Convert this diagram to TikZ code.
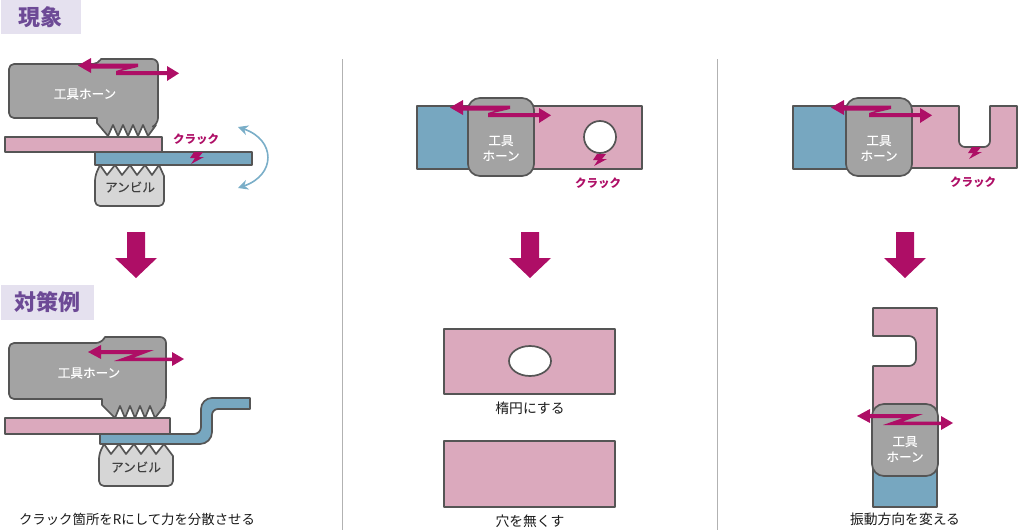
\documentclass[tikz,border=0pt]{standalone}
\usepackage{fontspec}
\setmainfont{Noto Sans CJK JP}
\usetikzlibrary{arrows.meta}
\definecolor{edge}{HTML}{555555}
\definecolor{horngray}{HTML}{A3A3A3}
\definecolor{anvilgray}{HTML}{D6D6D6}
\definecolor{pinkplate}{HTML}{DBA9BD}
\definecolor{blueplate}{HTML}{77A7C0}
\definecolor{magentaA}{HTML}{AE0E66}
\definecolor{headbg}{HTML}{E5E1EF}
\definecolor{headfg}{HTML}{6D4A96}
\definecolor{swing}{HTML}{7AAEC8}
\newfontfamily\semibold[FakeBold=0.25]{Noto Sans CJK JP}
\tikzset{
 x=1pt,y=-1pt,
 part/.style={draw=edge,line width=1.7pt,line join=round},
 pinkpart/.style={part,fill=pinkplate},
 bluepart/.style={part,fill=blueplate},
 hornpart/.style={part,fill=horngray},
 anvilpart/.style={part,fill=anvilgray},
 headbox/.style={fill=headbg},
 headtxt/.style={text=headfg,font=\fontsize{22}{22}\selectfont\bfseries,inner sep=0pt},
 whitetxt/.style={text=white,font=\semibold\fontsize{12.6}{15.5}\selectfont,inner sep=0pt,align=center},
 darktxt/.style={text=black!75,font=\semibold\fontsize{12.6}{15}\selectfont,inner sep=0pt},
 captxt/.style={text=black!90,font=\fontsize{13.8}{15}\selectfont,inner sep=0pt},
 cracktxt/.style={text=magentaA,font=\fontsize{11.5}{14}\selectfont\bfseries,inner sep=0pt},
 bolt/.pic={\fill[magentaA] (-3,-6)--(6,-6)--(2,-1)--(7,-1)--(-6,6)--(-2,0)--(-7,0)--cycle;},
 zarrowA/.pic={\fill[magentaA] (0,0.5)--(13,-7)--(13,-1.5)--(60,-1.5)--(60,2)--(43,6)--(89,6)--(89,1)--(101,8.3)--(89,16)--(89,10)--(38,10)--(38,6)--(46,3.5)--(13,3.5)--(13,8)--cycle;},
 zarrowB/.pic={\fill[magentaA] (0,0)--(13,-7)--(13,-2)--(66,-2)--(46,5.5)--(84,5.5)--(84,0)--(96,7)--(84,14)--(84,9)--(26,9)--(46,2)--(13,2)--(13,7)--cycle;},
 bigarrow/.pic={\fill[magentaA] (-9,0)--(9,0)--(9,26)--(21,26)--(0,46)--(-21,26)--(-9,26)--cycle;},
}
\begin{document}
\begin{tikzpicture}
\useasboundingbox (0,0) rectangle (1018,530);
% headers
\fill[headbox] (1,0) rectangle (81,34);
\node[headtxt] (h1) at (40,17) {現象};
\fill[headbox] (1,285) rectangle (94,320);
\node[headtxt] (h2) at (48,302) {対策例};
% dividers
\draw[black!30,line width=.8pt] (342,59)--(342,530);
\draw[black!30,line width=.8pt] (717,59)--(717,530);

% --- left top
\draw[hornpart] (97,118)[rounded corners=5pt]--(9,118)--(9,64)--(98,64)[sharp corners]--(101,59)[rounded corners=6pt]--(158,59)--(158,124)[sharp corners]--(156,125)--(148,136)--(143,125)--(138,136)--(133,125)--(128,136)--(123,125)--(118,136)--(113,125)--(108,136)--(97,123)--cycle;
\node[whitetxt] (t1) at (85,94) {工具ホーン};
\draw[anvilpart] (95,176)--(100,165)--(107,175)--(115,165)--(122,175)--(130,165)--(137,175)--(145,165)--(152,175)--(159,165)--(164,176)[rounded corners=5pt]--(164,206)--(95,206)--cycle;
\node[darktxt] (t2) at (130,187) {アンビル};
\draw[pinkpart] (5,137) rectangle (162,152);
\draw[bluepart] (95,152) rectangle (252,165);
\pic at (197,158) {bolt};
\node[cracktxt] (c1) at (196,139) {クラック};
\pic at (78,65) {zarrowA};
\coordinate (s1) at (238,127);
\coordinate (s2) at (238,188);
\draw[swing,line width=1.6pt,{Stealth[length=10pt,width=10pt]}-{Stealth[length=10pt,width=10pt]}] (s1) .. controls (276,140) and (276,175) .. (s2);
\pic at (136,232) {bigarrow};

% --- left bottom
\draw[hornpart] (102,399)[rounded corners=5pt]--(9,399)--(9,343)--(101,343)[sharp corners]--(105,337)[rounded corners=6pt]--(166,337)--(166,403)[sharp corners]--(165,405)--(155,418)--(150,406)--(145,418)--(140,406)--(135,418)--(130,406)--(125,418)--(120,406)--(115,418)--(102,405)--cycle;
\node[whitetxt] (t3) at (89,373) {工具ホーン};
\draw[anvilpart] (99,454)--(104,444)--(111,454)--(119,444)--(126,454)--(134,444)--(141,454)--(149,444)--(156,454)--(164,444)--(173,456)[rounded corners=5pt]--(173,486)--(99,486)--cycle;
\node[darktxt] (t4) at (136,467) {アンビル};
\draw[pinkpart] (5,418) rectangle (170,434);
\draw[bluepart] (100,434)[rounded corners=7pt]--(201,434)[rounded corners=11pt]--(201,398)[sharp corners]--(250,398)--(250,409)[rounded corners=6pt]--(212,409)[rounded corners=12pt]--(212,444)[sharp corners]--(100,444)--cycle;
\pic at (88,352) {zarrowB};
\node[captxt,font=\fontsize{13.4}{15}\selectfont] (cap1) at (137,519) {クラック箇所をRにして力を分散させる};

% --- middle top
\draw[bluepart] (417,106) rectangle (475,169);
\draw[pinkpart] (525,106) rectangle (642,169);
\draw[pinkpart,fill=white] (600,137) circle (16);
\draw[hornpart,rounded corners=12pt] (468,98) rectangle (534,176);
\node[whitetxt] (t5) at (501,148) {工具\\ホーン};
\pic at (600,160) {bolt};
\node[cracktxt] (c2) at (598,183) {クラック};
\pic at (450,107) {zarrowA};
\pic at (530,232) {bigarrow};

% --- middle bottom
\draw[pinkpart] (444,329) rectangle (615,394);
\draw[part,fill=white] (530,361) ellipse (21 and 15);
\node[captxt] (cap2) at (530,408) {楕円にする};
\draw[pinkpart] (444,441) rectangle (615,507);
\node[captxt] (cap3) at (530,521) {穴を無くす};

% --- right top
\draw[bluepart] (793,106) rectangle (855,169);
\draw[pinkpart] (905,106)--(959,106)[rounded corners=6pt]--(959,147)--(990,147)[sharp corners]--(990,106)--(1017,106)--(1017,168)--(905,168)--cycle;
\draw[hornpart,rounded corners=12pt] (846,98) rectangle (912,176);
\node[whitetxt] (t6) at (879,148) {工具\\ホーン};
\pic at (975,153) {bolt};
\node[cracktxt] (c3) at (973,182) {クラック};
\pic at (831,107) {zarrowA};
\pic at (905,232) {bigarrow};

% --- right bottom
\draw[bluepart] (873,465) rectangle (937,507);
\draw[pinkpart] (873,415)--(873,366)[rounded corners=7pt]--(916,366)--(916,336)[sharp corners]--(873,336)--(873,308)--(937,308)--(937,415)--cycle;
\draw[hornpart,rounded corners=12pt] (872,404) rectangle (938,476);
\node[whitetxt] (t7) at (905,449) {工具\\ホーン};
\pic at (857,416) {zarrowB};
\node[captxt] (cap4) at (905,519) {振動方向を変える};
\end{tikzpicture}
\end{document}
